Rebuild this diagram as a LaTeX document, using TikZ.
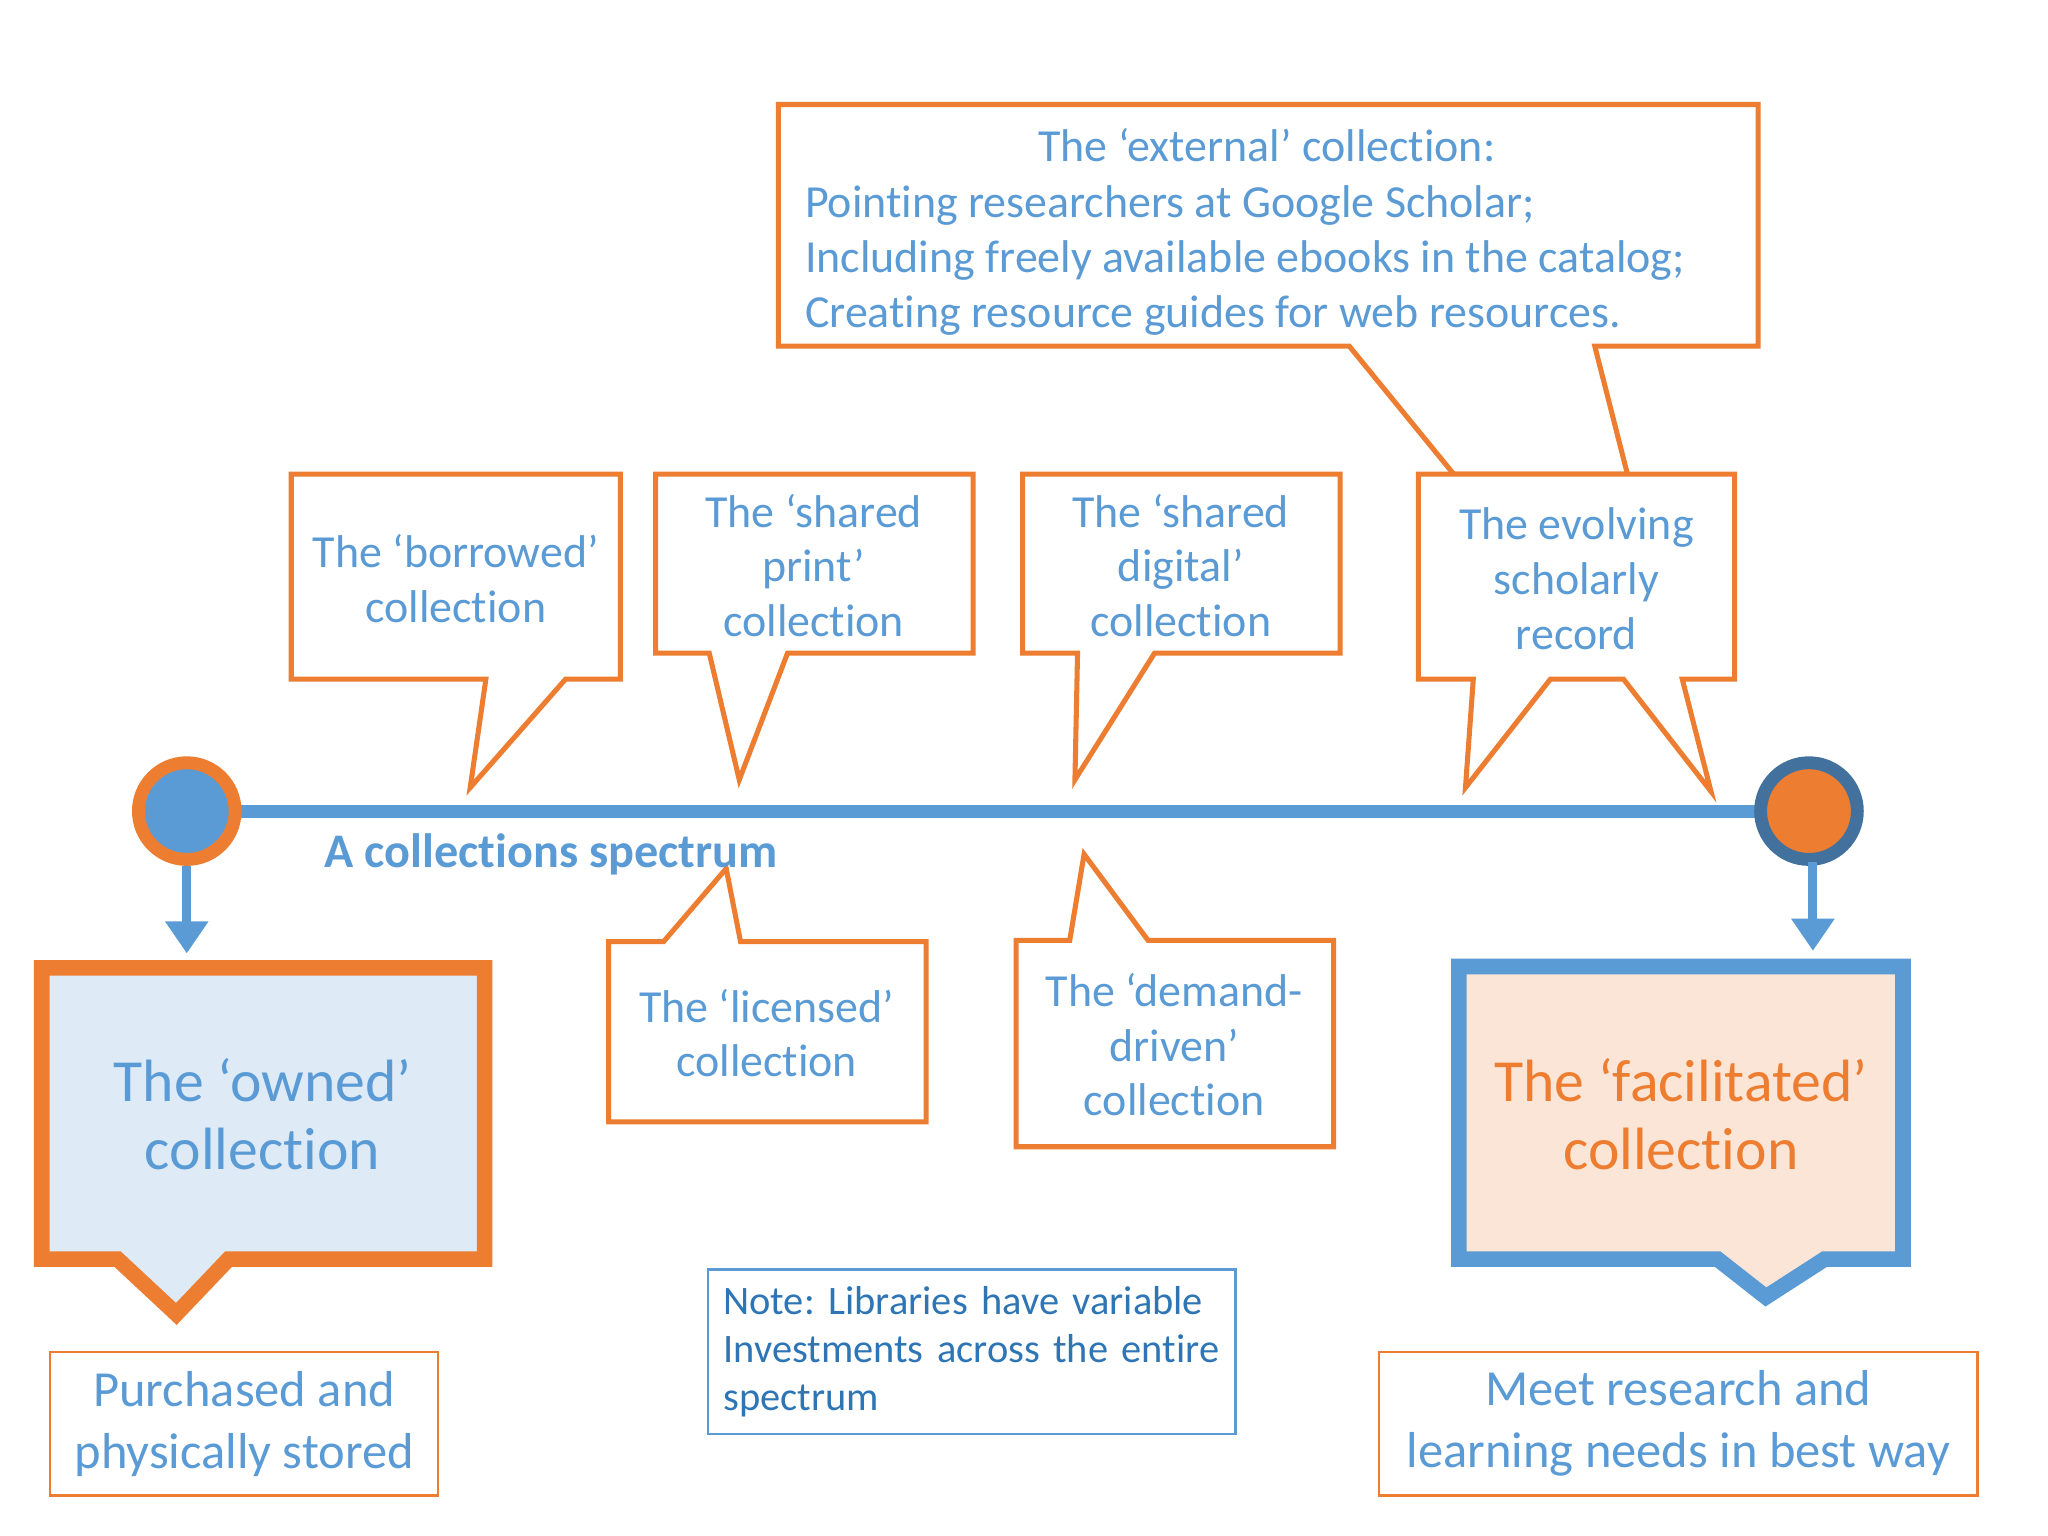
\documentclass[tikz,border=0pt]{standalone}
\usepackage{fontspec}
\setmainfont{Carlito}[RawFeature={-liga;-clig}]
\usetikzlibrary{arrows.meta}
\definecolor{ob}{HTML}{ED7D31}
\definecolor{bl}{HTML}{5B9BD5}
\definecolor{db}{HTML}{41719C}
\definecolor{nb}{HTML}{2E75B6}
\frenchspacing
\begin{document}
\begin{tikzpicture}[x=0.01cm,y=-0.01cm,
 call/.style={draw=ob,line width=1.1pt,fill=white,line join=miter},
 txt/.style={text=bl,align=center,font=\fontsize{10}{11.9}\selectfont},
 big/.style={text=bl,align=center,font=\fontsize{13}{14.9}\selectfont},
 arr/.style={draw=bl,line width=2pt,-{Triangle[length=7pt,width=9pt]}}]
\useasboundingbox (0,0) rectangle (1568,1176);
% external callout
\draw[call] (596,80)--(1346,80)--(1346,265)--(1221,265)--(1246,363)--(1113,363)--(1033,265)--(596,265)--cycle;
\node[txt] (extt) at (970,111) {The ‘external’ collection:};
\node[txt,align=left,anchor=north west] (ext) at (604,130) {Pointing researchers at Google Scholar;\\Including freely available ebooks in the catalog;\\Creating resource guides for web resources.};
% upper callouts
\draw[call] (223,363)--(475,363)--(475,520)--(433,520)--(360,603)--(372,520)--(223,520)--cycle;
\node[txt] (bor) at (349,443) {The ‘borrowed’\\collection};
\draw[call] (502,363)--(745,363)--(745,500)--(603,500)--(566,597)--(543,500)--(502,500)--cycle;
\node[txt] (sp) at (623,433) {The ‘shared\\print’\\collection};
\draw[call] (783,363)--(1026,363)--(1026,500)--(884,500)--(823,597)--(825,500)--(783,500)--cycle;
\node[txt] (sd) at (904,433) {The ‘shared\\digital’\\collection};
\draw[call] (1086,363)--(1328,363)--(1328,520)--(1288,520)--(1310,606)--(1243,520)--(1187,520)--(1122,603)--(1128,520)--(1086,520)--cycle;
\node[txt] (evo) at (1207,443) {The evolving\\scholarly\\record};
% lower callouts
\draw[call] (466,721)--(508,721)--(556,665)--(567,721)--(709,721)--(709,859)--(466,859)--cycle;
\node[txt] (lic) at (587,791) {The ‘licensed’\\collection};
\draw[call] (778,720)--(819,720)--(830,654)--(879,720)--(1021,720)--(1021,878)--(778,878)--cycle;
\node[txt] (dem) at (899,800) {The ‘demand-\\driven’\\collection};
% spectrum line
\coordinate (L) at (143,621); \coordinate (R) at (1385,621);
\draw[bl,line width=2.8pt] (L)--(R);
\node[circle,draw=ob,fill=bl,line width=2.8pt,minimum size=0.74cm] (lc) at (L) {};
\node[circle,draw=db,fill=ob,line width=2.8pt,minimum size=0.74cm] (rc) at (R) {};
\node[anchor=west,text=bl,font=\fontsize{10.5}{13}\selectfont\bfseries] (spec) at (236,654) {A collections spectrum};
\coordinate (la) at (143,730); \coordinate (ra) at (1388,728);
\draw[arr] (lc.south)--(la);
\draw[arr] (1388,660)--(ra);
% owned / facilitated
\draw[draw=ob,fill={rgb,255:red,222;green,235;blue,247},line width=3.4pt] (32,741)--(371,741)--(371,964)--(175,964)--(135,1006)--(90,964)--(32,964)--cycle;
\node[big] (own) at (201,853) {The ‘owned’\\collection};
\draw[draw=bl,fill={rgb,255:red,251;green,229;blue,214},line width=3.4pt] (1117,740)--(1457,740)--(1457,964)--(1397,964)--(1352,993)--(1315,964)--(1117,964)--cycle;
\node[big,text=ob] (fac) at (1287,853) {The ‘facilitated’\\collection};
% bottom boxes
\node[draw=ob,line width=0.5pt,minimum width=2.97cm,minimum height=1.1cm,txt,font=\fontsize{11}{13.5}\selectfont] (pur) at (187,1090) {Purchased and\\physically stored};
\node[draw=ob,line width=0.5pt,minimum width=4.58cm,minimum height=1.1cm,txt,font=\fontsize{11}{13.5}\selectfont] (meet) at (1285,1090) {Meet research and\\learning needs in best way};
\node[draw=bl,line width=0.5pt,minimum width=4cm,minimum height=1.26cm,text=nb,align=left,font=\fontsize{8.8}{10.5}\selectfont,text width=3.8cm] (note) at (744,1035) {Note: Libraries have variable\\Investments across the entire\\spectrum};
\end{tikzpicture}
\end{document}
